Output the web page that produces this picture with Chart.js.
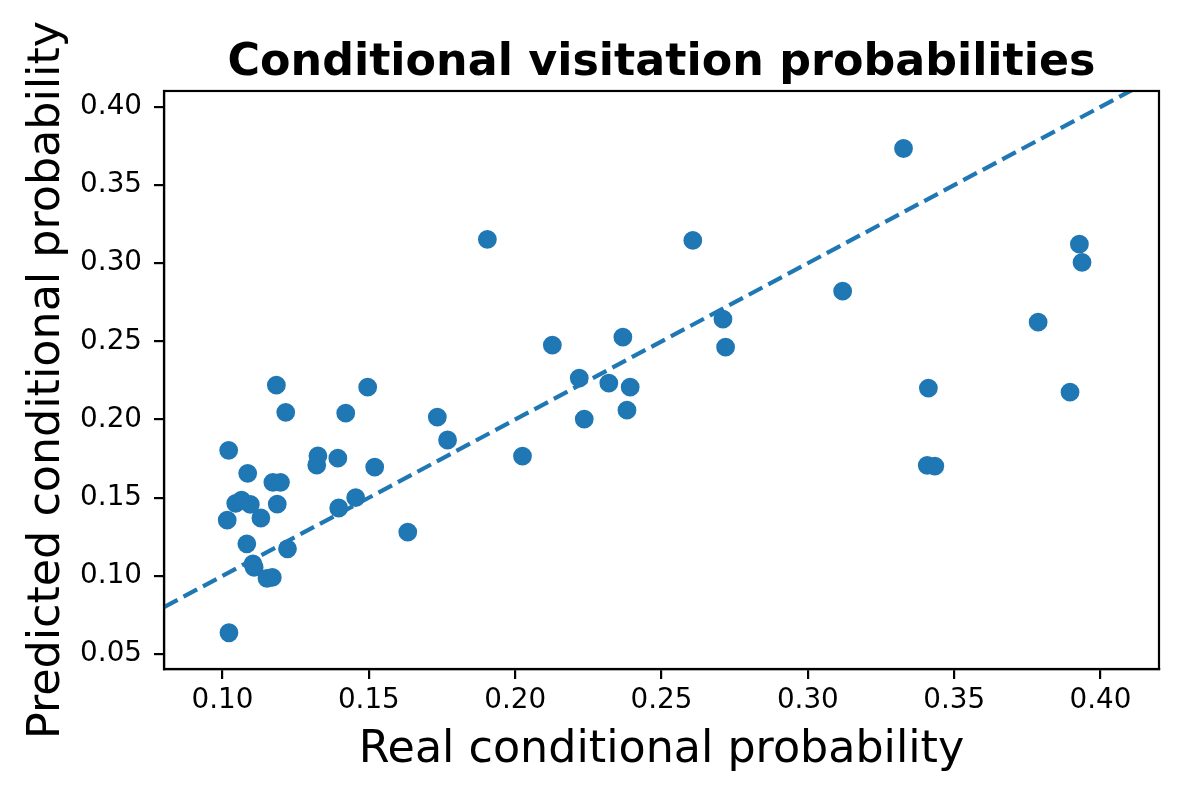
<!DOCTYPE html>
<html>
<head>
<meta charset="utf-8">
<title>Conditional visitation probabilities</title>
<script src="https://cdn.jsdelivr.net/npm/chart.js@4.4.1/dist/chart.umd.min.js"></script>
<style>
  html, body { margin: 0; padding: 0; background: #fff; }
  canvas { display: block; }
</style>
</head>
<body>
<canvas id="myChart" width="1200" height="800"></canvas>
<script>
// values
var realProb = [
    0.1022, 0.1016, 0.1021, 0.1045, 0.1065, 0.1095, 0.1083, 0.1086, 0.1104, 0.1108,
    0.1131, 0.1152, 0.1170, 0.1172, 0.1198, 0.1184, 0.1187, 0.1216, 0.1222, 0.1322,
    0.1326, 0.1394, 0.1397, 0.1421, 0.1455, 0.1496, 0.1520, 0.1633, 0.1734, 0.1769,
    0.1905, 0.2025, 0.2127, 0.2219, 0.2236, 0.2320, 0.2368, 0.2382, 0.2393, 0.2607,
    0.2710, 0.2719, 0.3119, 0.3327, 0.3412, 0.3408, 0.3434, 0.3787, 0.3896, 0.3928,
    0.3937
];
var predictedProb = [
    0.0636, 0.1357, 0.1803, 0.1464, 0.1485, 0.1457, 0.1205, 0.1656, 0.1076, 0.1054,
    0.1370, 0.0984, 0.0990, 0.1598, 0.1598, 0.2220, 0.1459, 0.2046, 0.1173, 0.1709,
    0.1768, 0.1753, 0.1434, 0.2041, 0.1500, 0.2207, 0.1696, 0.1280, 0.2016, 0.1869,
    0.3152, 0.1766, 0.2476, 0.2265, 0.2003, 0.2233, 0.2527, 0.2060, 0.2207, 0.3146,
    0.2642, 0.2463, 0.2821, 0.3734, 0.2201, 0.1707, 0.1702, 0.2623, 0.2175, 0.3122,
    0.3005
];
var xLimits = [0.08, 0.42];
var yLimits = [0.0404, 0.4102];
var xTicks = [0.10, 0.15, 0.20, 0.25, 0.30, 0.35, 0.40];
var yTicks = [0.05, 0.10, 0.15, 0.20, 0.25, 0.30, 0.35, 0.40];

document.addEventListener('DOMContentLoaded', function () {
    var ctx = document.getElementById('myChart').getContext('2d');
    var blue = '#1f77b4';
    var fontFamily = '"DejaVu Sans", sans-serif';

    var points = realProb.map(function (v, i) {
        return { x: v, y: predictedProb[i] };
    });
    // y = x reference line across the whole x range
    var diagonal = xLimits.map(function (v) {
        return { x: v, y: v };
    });

    // matplotlib-style box round the plot area
    var frame = {
        id: 'frame',
        afterDraw: function (chart) {
            var a = chart.chartArea;
            var c = chart.ctx;
            c.save();
            c.strokeStyle = '#000';
            c.lineWidth = 2.2;
            c.strokeRect(a.left, a.top, a.right - a.left, a.bottom - a.top);
            c.restore();
        }
    };

    function axisTicks(list) {
        return function (scale) {
            scale.ticks = list.map(function (v) { return { value: v }; });
        };
    }

    var tickGrid = {
        drawOnChartArea: false,
        drawTicks: true,
        tickLength: 10,
        tickWidth: 2.2,
        tickColor: '#000',
        color: '#000',
        lineWidth: 2.2
    };

    var myChart = new Chart(ctx, {
        type: 'scatter',
        data: {
            datasets: [{
                type: 'line',
                data: diagonal,
                borderColor: blue,
                borderWidth: 4.2,
                borderDash: [15.4, 6.7],
                pointRadius: 0,
                fill: false,
                order: 0
            }, {
                data: points,
                backgroundColor: blue,
                borderColor: blue,
                borderWidth: 2,
                pointRadius: 8.4,
                order: 1
            }]
        },
        plugins: [frame],
        options: {
            responsive: false,
            devicePixelRatio: 1,
            animation: false,
            layout: { padding: { left: 0, right: 41, top: 0, bottom: 0 } },
            plugins: {
                legend: { display: false },
                tooltip: { enabled: false },
                title: {
                    display: true,
                    text: 'Conditional visitation probabilities',
                    fullSize: false,
                    color: '#000',
                    font: { family: fontFamily, size: 44.4, weight: 'bold', lineHeight: 1.2 },
                    padding: { top: 37, bottom: 0.7 }
                }
            },
            scales: {
                x: {
                    type: 'linear',
                    min: xLimits[0],
                    max: xLimits[1],
                    afterBuildTicks: axisTicks(xTicks),
                    afterFit: function (s) { s.height = 131; },
                    grid: tickGrid,
                    border: { display: true, color: '#000', width: 2.2 },
                    ticks: {
                        color: '#000',
                        padding: 5,
                        maxRotation: 0,
                        font: { family: fontFamily, size: 27.8 },
                        callback: function (v) { return Number(v).toFixed(2); }
                    },
                    title: {
                        display: true,
                        text: 'Real conditional probability',
                        color: '#000',
                        font: { family: fontFamily, size: 44.4, lineHeight: 1.2 },
                        padding: { top: 0, bottom: 23 }
                    }
                },
                y: {
                    type: 'linear',
                    min: yLimits[0],
                    max: yLimits[1],
                    afterBuildTicks: axisTicks(yTicks),
                    afterFit: function (s) { s.width = 164; },
                    grid: tickGrid,
                    border: { display: true, color: '#000', width: 2.2 },
                    ticks: {
                        color: '#000',
                        padding: 12,
                        font: { family: fontFamily, size: 27.8 },
                        callback: function (v) { return Number(v).toFixed(2); }
                    },
                    title: {
                        display: true,
                        text: 'Predicted conditional probability',
                        color: '#000',
                        font: { family: fontFamily, size: 44.4, lineHeight: 1.2 },
                        padding: { top: 21, bottom: 0 }
                    }
                }
            }
        }
    });
});
</script>
</body>
</html>
